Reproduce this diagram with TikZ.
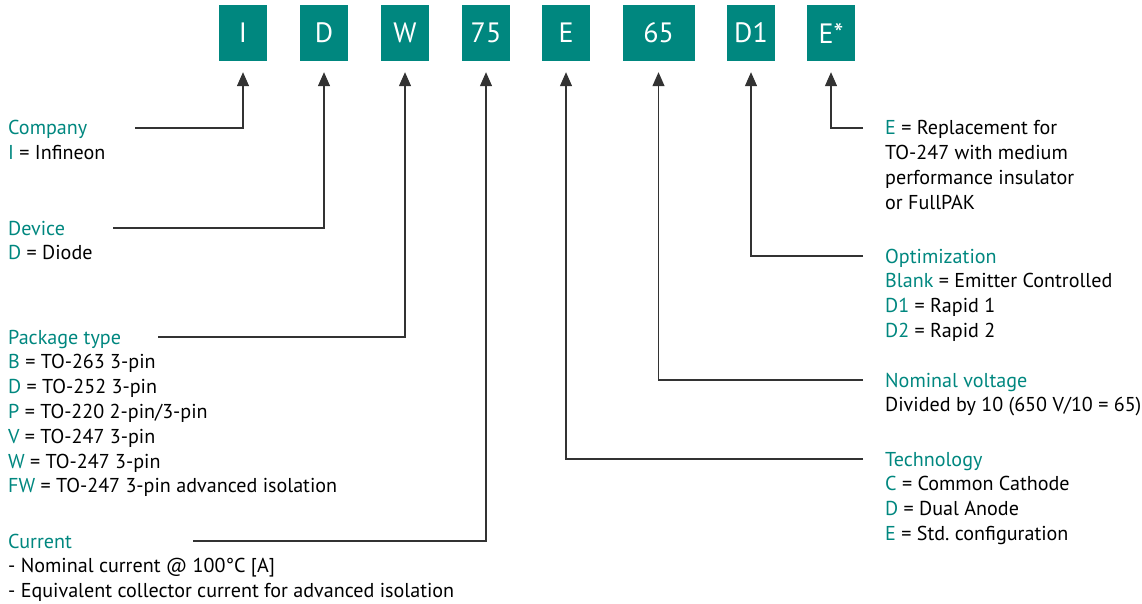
\documentclass[tikz,border=0pt]{standalone}
\usepackage{fontspec}
\setmainfont{PT Sans}
\usetikzlibrary{arrows.meta}
\definecolor{ifxteal}{HTML}{00877F}
\definecolor{lineclr}{HTML}{333333}
\newcommand{\tl}[1]{\textcolor{ifxteal}{#1}}
\frenchspacing
\begin{document}
\begin{tikzpicture}[x=1pt,y=-1pt,
  codebox/.style={fill=ifxteal, text=white, minimum height=56pt, minimum width=48pt, inner sep=0pt, font=\fontsize{28}{30}\selectfont},
  lbl/.style={anchor=base west, inner sep=0pt, align=left, font=\fontsize{20.1}{24.8}\selectfont},
  conn/.style={draw=lineclr, line width=1.3pt},
  arr/.style={conn, -{Triangle[width=12pt,length=14pt]}, shorten >=11pt}]
\useasboundingbox (0,0) rectangle (1142,604);

% code boxes
\node[codebox] (bI)  at (243,33) {I};
\node[codebox] (bD)  at (324,33) {D};
\node[codebox] (bW)  at (405,33) {W};
\node[codebox] (b75) at (486,33) {75};
\node[codebox] (bE)  at (566,33) {E};
\node[codebox, minimum width=72pt] (b65) at (658.5,33) {65};
\node[codebox] (bD1) at (751,33) {D1};
\node[codebox] (bEs) at (831,33) {E*};

% left labels (anchored at the baseline of the last line)
\node[lbl] (tCo) at (8,159.8) {\tl{Company}\\\tl{I} = Infineon};
\node[lbl] (tDe) at (8,259.8) {\tl{Device}\\\tl{D} = Diode};
\node[lbl] (tPa) at (8,492.8) {\tl{Package type}\\\tl{B} = TO-263 3-pin\\\tl{D} = TO-252 3-pin\\\tl{P} = TO-220 2-pin/3-pin\\\tl{V} = TO-247 3-pin\\\tl{W} = TO-247 3-pin\\\tl{FW} = TO-247 3-pin advanced isolation};
\node[lbl] (tCu) at (8,597.6) {\tl{Current}\\- Nominal current @ 100°C [A]\\- Equivalent collector current for advanced isolation};

% right labels
\node[lbl] (tEs) at (885,209.4) {\tl{E} = Replacement for\\TO-247 with medium\\performance insulator\\or FullPAK};
\node[lbl] (tOp) at (885,337.4) {\tl{Optimization}\\\tl{Blank} = Emitter Controlled\\\tl{D1} = Rapid 1\\\tl{D2} = Rapid 2};
\node[lbl] (tNo) at (885,411.8) {\tl{Nominal voltage}\\Divided by 10 (650 V/10 = 65)};
\node[lbl] (tTe) at (885,540.4) {\tl{Technology}\\\tl{C} = Common Cathode\\\tl{D} = Dual Anode\\\tl{E} = Std. configuration};

% connector start points
\coordinate (cCo) at (135,128);
\coordinate (cDe) at (113,228);
\coordinate (cPa) at (158,337);
\coordinate (cCu) at (193,541);
\coordinate (cEs) at (863,128);
\coordinate (cOp) at (863,256);
\coordinate (cNo) at (863,380);
\coordinate (cTe) at (863,459);

% connectors
\draw[arr] (cCo) -| (bI);
\draw[arr] (cDe) -| (bD);
\draw[arr] (cPa) -| (bW);
\draw[arr] (cCu) -| (b75);
\draw[arr] (cTe) -| (bE);
\draw[arr] (cNo) -| (b65);
\draw[arr] (cOp) -| (bD1);
\draw[arr] (cEs) -| (bEs);
\end{tikzpicture}
\end{document}
